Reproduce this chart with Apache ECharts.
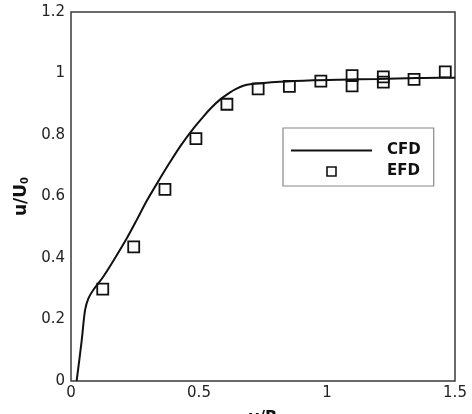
<!DOCTYPE html>
<html>
<head>
<meta charset="utf-8">
<script src="https://cdn.jsdelivr.net/npm/echarts@6/dist/echarts.min.js"></script>
<style>
  html, body { margin: 0; padding: 0; background: #fff; }
  #chart { width: 472px; height: 414px; }
</style>
</head>
<body>
<div id="chart"></div>
<script>
// CFD curve (y/R, u/U0)
var cfdX = [0.022, 0.042, 0.055, 0.068, 0.087, 0.126, 0.165, 0.218, 0.257, 0.296, 0.348, 0.387, 0.43, 0.48, 0.517, 0.55, 0.582, 0.62, 0.647, 0.673, 0.7, 0.816, 0.947, 1.05, 1.2, 1.35, 1.44, 1.5];
var cfdY = [0, 0.133, 0.231, 0.269, 0.296, 0.339, 0.39, 0.464, 0.524, 0.586, 0.659, 0.712, 0.767, 0.823, 0.86, 0.89, 0.915, 0.938, 0.951, 0.96, 0.965, 0.973, 0.978, 0.98, 0.982, 0.985, 0.986, 0.986];
// EFD measurements
var efdX = [0.124, 0.245, 0.367, 0.488, 0.609, 0.731, 0.853, 0.976, 1.098, 1.098, 1.220, 1.220, 1.340, 1.462];
var efdY = [0.299, 0.436, 0.623, 0.788, 0.900, 0.950, 0.958, 0.975, 0.993, 0.960, 0.989, 0.972, 0.981, 1.005];
var xTicks = [0, 0.5, 1, 1.5];
var yTicks = [0, 0.2, 0.4, 0.6, 0.8, 1, 1.2];

function pairs(xs, ys) {
  return xs.map(function (x, i) { return [x, ys[i]]; });
}

var font = 'DejaVu Sans';
var chart = echarts.init(document.getElementById('chart'));
chart.setOption({
  animation: false,
  backgroundColor: '#fff',
  grid: {
    left: 71, right: 17, top: 12, bottom: 33,
    containLabel: false, outerBoundsMode: 'none',
    show: true, borderColor: '#3a3a3a', borderWidth: 1.5
  },
  legend: {
    orient: 'vertical',
    left: 283, top: 128,
    padding: [15, 13, 7, 8],
    itemWidth: 81, itemHeight: 9, itemGap: 6,
    symbolKeepAspect: true,
    backgroundColor: '#fff',
    borderColor: '#888', borderWidth: 1.2, borderRadius: 0,
    textStyle: { fontFamily: font, fontWeight: 'bold', fontSize: 15, color: '#111', lineHeight: 14, padding: [0, 0, 0, 10] },
    data: [
      { name: 'CFD', icon: 'path://M0,0 H81 V2 H0 Z', itemStyle: { color: '#111', borderWidth: 0 } },
      { name: 'EFD', icon: 'path://M0,0 H10 V10 H0 Z', itemStyle: { color: '#fff', borderColor: '#111', borderWidth: 1.6 } }
    ]
  },
  xAxis: {
    type: 'value', min: 0, max: 1.5, interval: 0.5,
    name: 'y/R', nameLocation: 'middle', nameGap: 29,
    nameTextStyle: { fontFamily: font, fontWeight: 'bold', fontSize: 16, color: '#111' },
    axisLine: { show: false }, axisTick: { show: false }, splitLine: { show: false },
    axisLabel: {
      margin: 5, fontFamily: font, fontSize: 15, color: '#222',
      customValues: xTicks
    }
  },
  yAxis: {
    type: 'value', min: 0, max: 1.2, interval: 0.2,
    name: 'u/U{sub|0}', nameLocation: 'middle', nameGap: 38, nameRotate: 90,
    nameTextStyle: {
      fontFamily: font, fontWeight: 'bold', fontSize: 17, color: '#111',
      rich: { sub: { fontFamily: font, fontWeight: 'bold', fontSize: 10, color: '#111', verticalAlign: 'bottom', padding: [8, 0, 0, 0] } }
    },
    axisLine: { show: false }, axisTick: { show: false }, splitLine: { show: false },
    axisLabel: {
      margin: 6, fontFamily: font, fontSize: 15, color: '#222',
      customValues: yTicks
    }
  },
  series: [
    {
      name: 'CFD', type: 'line', data: pairs(cfdX, cfdY),
      smooth: 0.3, symbol: 'none', showSymbol: false,
      lineStyle: { color: '#111', width: 2 },
      itemStyle: { color: '#111' }
    },
    {
      name: 'EFD', type: 'scatter', data: pairs(efdX, efdY),
      symbol: 'rect', symbolSize: 11,
      itemStyle: { color: 'rgba(255,255,255,0)', borderColor: '#111', borderWidth: 1.8, opacity: 1 }
    }
  ]
});
</script>
</body>
</html>
